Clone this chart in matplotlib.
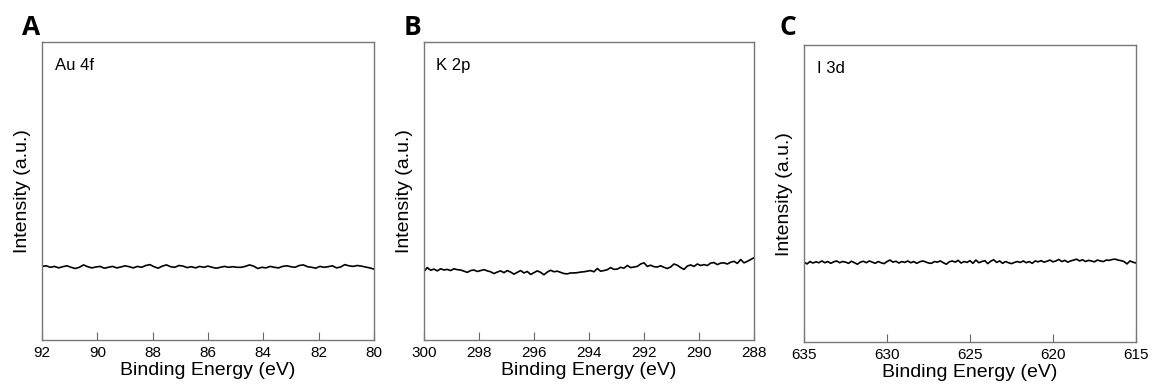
import numpy as np
import matplotlib
matplotlib.use("Agg")
import matplotlib.pyplot as plt

plt.rcParams['font.family'] = ['Liberation Sans', 'DejaVu Sans']

# panel A: Au 4f, 92 -> 80 eV
au_range = (92, 80)
au_ticks = [92, 90, 88, 86, 84, 82, 80]
au_int = [0.247, 0.249, 0.244, 0.247, 0.242, 0.246, 0.249, 0.244, 0.240, 0.244,
          0.252, 0.246, 0.242, 0.245, 0.247, 0.241, 0.244, 0.247, 0.242, 0.245,
          0.249, 0.246, 0.242, 0.247, 0.244, 0.250, 0.253, 0.246, 0.241, 0.248,
          0.252, 0.246, 0.244, 0.250, 0.248, 0.243, 0.246, 0.242, 0.247, 0.244,
          0.248, 0.244, 0.241, 0.244, 0.247, 0.244, 0.246, 0.244, 0.244, 0.247,
          0.252, 0.248, 0.240, 0.244, 0.242, 0.247, 0.244, 0.242, 0.247, 0.249,
          0.246, 0.244, 0.250, 0.252, 0.246, 0.244, 0.241, 0.247, 0.244, 0.246,
          0.249, 0.242, 0.245, 0.253, 0.249, 0.247, 0.250, 0.248, 0.245, 0.242, 0.238]

# panel B: K 2p, 300 -> 288 eV
k_range = (300, 288)
k_ticks = [300, 298, 296, 294, 292, 290, 288]
k_int = [0.230, 0.243, 0.234, 0.238, 0.232, 0.239, 0.235, 0.237, 0.233, 0.239,
         0.236, 0.235, 0.231, 0.227, 0.233, 0.235, 0.230, 0.233, 0.236, 0.232,
         0.229, 0.223, 0.228, 0.232, 0.226, 0.233, 0.228, 0.221, 0.227, 0.233,
         0.225, 0.230, 0.220, 0.226, 0.232, 0.227, 0.219, 0.228, 0.234, 0.229,
         0.231, 0.227, 0.223, 0.222, 0.225, 0.225, 0.226, 0.228, 0.229, 0.231,
         0.233, 0.229, 0.240, 0.231, 0.233, 0.236, 0.243, 0.237, 0.238, 0.244,
         0.241, 0.250, 0.243, 0.245, 0.247, 0.255, 0.259, 0.247, 0.251, 0.246,
         0.245, 0.249, 0.244, 0.240, 0.245, 0.255, 0.251, 0.243, 0.237, 0.248,
         0.252, 0.247, 0.255, 0.250, 0.253, 0.250, 0.258, 0.260, 0.253, 0.258,
         0.259, 0.255, 0.261, 0.264, 0.257, 0.270, 0.259, 0.264, 0.270, 0.276]

# panel C: I 3d, 635 -> 615 eV
i_range = (635, 615)
i_ticks = [635, 630, 625, 620, 615]
i_int = [0.269, 0.263, 0.271, 0.266, 0.270, 0.267, 0.273, 0.267, 0.271, 0.265,
         0.270, 0.273, 0.267, 0.271, 0.269, 0.265, 0.272, 0.267, 0.262, 0.269,
         0.272, 0.267, 0.273, 0.269, 0.265, 0.271, 0.267, 0.264, 0.271, 0.276,
         0.269, 0.272, 0.266, 0.271, 0.268, 0.273, 0.267, 0.271, 0.265, 0.270,
         0.273, 0.270, 0.266, 0.265, 0.271, 0.269, 0.273, 0.267, 0.262, 0.270,
         0.273, 0.269, 0.275, 0.266, 0.271, 0.268, 0.274, 0.265, 0.276, 0.267,
         0.271, 0.274, 0.264, 0.272, 0.277, 0.268, 0.273, 0.265, 0.271, 0.267,
         0.264, 0.268, 0.271, 0.268, 0.273, 0.267, 0.271, 0.265, 0.273, 0.270,
         0.274, 0.269, 0.272, 0.276, 0.270, 0.273, 0.278, 0.271, 0.275, 0.269,
         0.273, 0.276, 0.279, 0.273, 0.277, 0.271, 0.275, 0.273, 0.270, 0.276,
         0.273, 0.271, 0.276, 0.275, 0.278, 0.279, 0.276, 0.274, 0.271, 0.263,
         0.273, 0.269, 0.266]

panels = [
    ("A", "Au 4f", au_range, au_ticks, au_int, [0.0365, 0.1237, 0.288, 0.768], 0.019),
    ("B", "K 2p", k_range, k_ticks, k_int, [0.368, 0.1237, 0.2865, 0.768], 0.350),
    ("C", "I 3d", i_range, i_ticks, i_int, [0.698, 0.1186, 0.288, 0.765], 0.677),
]

fig = plt.figure(figsize=(11.52, 3.88), dpi=100)

for letter, name, erange, ticks, vals, pos, lx in panels:
    ax = fig.add_axes(pos)
    energy = np.linspace(erange[0], erange[1], len(vals))
    ax.plot(energy, vals, color="black", lw=1.2)
    ax.set_xlim(erange[0], erange[1])
    ax.set_ylim(0, 1)
    ax.set_xticks(ticks)
    ax.set_yticks([])
    ax.tick_params(axis="x", direction="in", length=6, width=0.8, color="#666666",
                   labelsize=11, pad=4)
    for s in ax.spines.values():
        s.set_color("#777777")
        s.set_linewidth(1)
    ax.set_xlabel("Binding Energy (eV)", fontsize=14, labelpad=2)
    ax.set_ylabel("Intensity (a.u.)", fontsize=14, labelpad=8)
    ax.text(0.038, 0.92, name, transform=ax.transAxes, fontsize=12, va="center")
    fig.text(lx, 0.93, letter, fontsize=19, fontweight="bold",
             family=["Open Sans", "DejaVu Sans"], va="center")

fig.savefig("out.png", dpi=100)
